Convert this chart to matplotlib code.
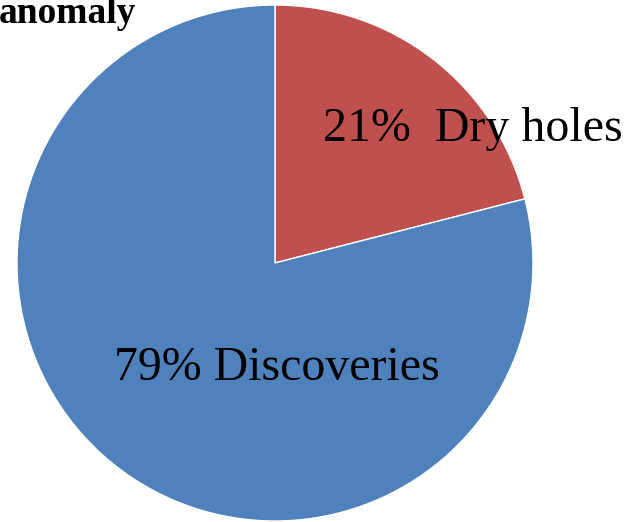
import matplotlib.pyplot as plt

# data
categories = ["Dry holes", "Discoveries"]
shares = [21, 79]
colors = ["#C0504D", "#4F81BD"]
title = "anomaly"

plt.rcParams['font.family'] = ['Liberation Serif', 'DejaVu Serif']

fig = plt.figure(figsize=(6.3, 5.22), dpi=100)
ax = fig.add_axes([0, 0, 1, 1])

wedges, _ = ax.pie(shares, colors=colors, startangle=90, counterclock=False,
                   center=(275, 259), radius=258,
                   wedgeprops=dict(edgecolor='white', linewidth=1))

# pie() resets the limits, so set them afterwards
ax.set_xlim(0, 630)
ax.set_ylim(0, 522)
ax.set_aspect('equal')
ax.axis('off')

# labels placed as in the original
label_pos = [(473, 393), (277, 154)]
seps = ["  ", " "]
for name, s, sep, (x, y) in zip(categories, shares, seps, label_pos):
    ax.text(x, y, f"{s}%{sep}{name}", fontsize=34.5, ha='center', va='center')

ax.text(136, 499, title, fontsize=27, fontweight='bold', ha='right', va='baseline')

fig.savefig("out.png", dpi=100)
